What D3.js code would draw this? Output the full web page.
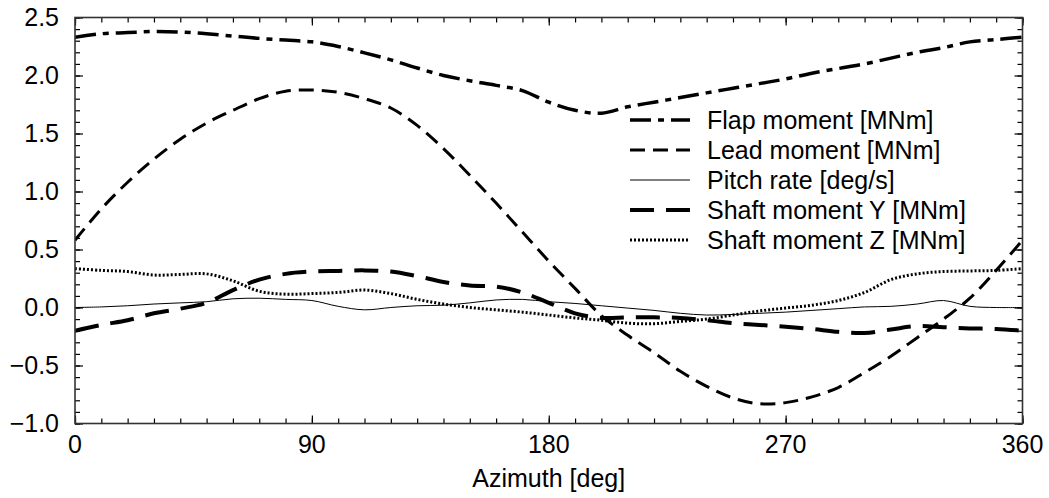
<!DOCTYPE html>
<html>
<head>
<meta charset="utf-8">
<script src="https://cdn.jsdelivr.net/npm/d3@7"></script>
<style>
html,body{margin:0;padding:0;background:#fff;}
text{font-family:"Liberation Sans",Arial,Helvetica,sans-serif;fill:#000;}
</style>
</head>
<body>
<svg id="chart" width="1049" height="498"></svg>
<script>
const azimuth = d3.range(0, 361, 10);
const flapMoment = [2.33,2.36,2.37,2.38,2.375,2.36,2.34,2.32,2.305,2.29,2.25,2.195,2.135,2.065,2.00,1.955,1.915,1.87,1.77,1.70,1.675,1.73,1.77,1.81,1.85,1.89,1.93,1.97,2.02,2.06,2.10,2.15,2.20,2.24,2.29,2.31,2.33];
const leadMoment = [0.58,0.85,1.08,1.28,1.45,1.59,1.70,1.80,1.865,1.875,1.855,1.80,1.72,1.57,1.37,1.14,0.90,0.65,0.40,0.165,-0.07,-0.24,-0.39,-0.55,-0.68,-0.78,-0.83,-0.82,-0.77,-0.69,-0.56,-0.42,-0.26,-0.10,0.08,0.32,0.58];
const pitchRate = [0.00,0.005,0.015,0.03,0.04,0.05,0.075,0.08,0.07,0.06,0.01,-0.02,0.00,0.015,0.02,0.04,0.065,0.07,0.05,0.035,0.015,-0.005,-0.025,-0.05,-0.065,-0.06,-0.05,-0.04,-0.025,-0.01,0.005,0.01,0.03,0.06,0.01,0.00,0.00];
const shaftMomentY = [-0.20,-0.15,-0.11,-0.05,-0.01,0.04,0.15,0.24,0.29,0.31,0.315,0.32,0.31,0.27,0.22,0.19,0.18,0.13,0.04,-0.05,-0.09,-0.085,-0.085,-0.09,-0.11,-0.135,-0.15,-0.165,-0.185,-0.21,-0.22,-0.19,-0.16,-0.17,-0.18,-0.185,-0.20];
const shaftMomentZ = [0.335,0.32,0.31,0.28,0.285,0.29,0.23,0.14,0.115,0.12,0.13,0.15,0.12,0.07,0.03,0.00,-0.02,-0.04,-0.065,-0.09,-0.11,-0.135,-0.14,-0.12,-0.10,-0.065,-0.03,-0.005,0.02,0.06,0.13,0.24,0.29,0.31,0.315,0.32,0.335];
const seriesNames = ["Flap moment [MNm]","Lead moment [MNm]","Pitch rate [deg/s]","Shaft moment Y [MNm]","Shaft moment Z [MNm]"];
const xTickValues = [0,90,180,270,360];
const yTickValues = [-1.0,-0.5,0.0,0.5,1.0,1.5,2.0,2.5];
const xTitle = "Azimuth [deg]";

const series = [
  {name:seriesNames[0], values:flapMoment, w:3.5, dash:"21,7,6,7"},
  {name:seriesNames[1], values:leadMoment, w:3, dash:"15,8"},
  {name:seriesNames[2], values:pitchRate, w:1, dash:null},
  {name:seriesNames[3], values:shaftMomentY, w:4, dash:"24,12"},
  {name:seriesNames[4], values:shaftMomentZ, w:3, dash:"2,2"}
];

const svg = d3.select("#chart");
const L = 75, R = 1022.5, T = 17.5, B = 423.5;
const x = d3.scaleLinear().domain([0,360]).range([L,R]);
const y = d3.scaleLinear().domain([-1,2.5]).range([B,T]);
const fs = 25;

svg.append("defs").append("clipPath").attr("id","clip")
  .append("rect").attr("x",L).attr("y",T).attr("width",R-L).attr("height",B-T);

// lines
const line = d3.line().x((d,i)=>x(azimuth[i])).y(d=>y(d)).curve(d3.curveCatmullRom.alpha(0.5));
const gLines = svg.append("g").attr("clip-path","url(#clip)");
series.forEach(s=>{
  gLines.append("path").attr("d",line(s.values)).attr("fill","none")
    .attr("stroke","#000").attr("stroke-width",s.w)
    .attr("stroke-dasharray",s.dash);
});

// axes with inward ticks
const fmtY = d=> (d<0?"\u2212":"")+d3.format(".1f")(Math.abs(d));
const minorX = d3.range(0,361,10), minorY = d3.range(-10,26,1).map(v=>v/10);
function axisGroup(axisGen, tx, ty){
  const g = svg.append("g").attr("transform",`translate(${tx},${ty})`).call(axisGen);
  g.select(".domain").remove();
  g.selectAll("line").attr("stroke","#000").attr("stroke-width",1.2);
  return g;
}
axisGroup(d3.axisBottom(x).tickValues(minorX).tickSize(-5).tickFormat(""),0,B);
axisGroup(d3.axisBottom(x).tickValues(xTickValues).tickSize(-8).tickFormat(""),0,B);
axisGroup(d3.axisTop(x).tickValues(minorX).tickSize(-5).tickFormat(""),0,T);
axisGroup(d3.axisTop(x).tickValues(xTickValues).tickSize(-8).tickFormat(""),0,T);
axisGroup(d3.axisLeft(y).tickValues(minorY).tickSize(-5).tickFormat(""),L,0);
axisGroup(d3.axisLeft(y).tickValues(yTickValues).tickSize(-8).tickFormat(""),L,0);
axisGroup(d3.axisRight(y).tickValues(minorY).tickSize(-5).tickFormat(""),R,0);
axisGroup(d3.axisRight(y).tickValues(yTickValues).tickSize(-8).tickFormat(""),R,0);

// frame
svg.append("rect").attr("x",L).attr("y",T).attr("width",R-L).attr("height",B-T)
  .attr("fill","none").attr("stroke","#333").attr("stroke-width",1.6);

// tick labels
svg.append("g").selectAll("text").data(xTickValues).join("text")
  .attr("x",d=>x(d)).attr("y",453).attr("text-anchor","middle").attr("font-size",fs)
  .text(d=>d);
svg.append("g").selectAll("text").data(yTickValues).join("text")
  .attr("x",59).attr("y",d=>y(d)+8.5).attr("text-anchor","end").attr("font-size",fs)
  .text(fmtY);
svg.append("text").attr("x",(L+R)/2).attr("y",487).attr("text-anchor","middle")
  .attr("font-size",fs).text(xTitle);

// legend
const lg = svg.append("g");
series.forEach((s,i)=>{
  const yy = 120 + i*30;
  lg.append("line").attr("x1",630).attr("x2",690).attr("y1",yy).attr("y2",yy)
    .attr("stroke","#000").attr("stroke-width",s.w).attr("stroke-dasharray",s.dash);
  lg.append("text").attr("x",707).attr("y",yy+8.5).attr("font-size",fs).text(s.name);
});
</script>
</body>
</html>
